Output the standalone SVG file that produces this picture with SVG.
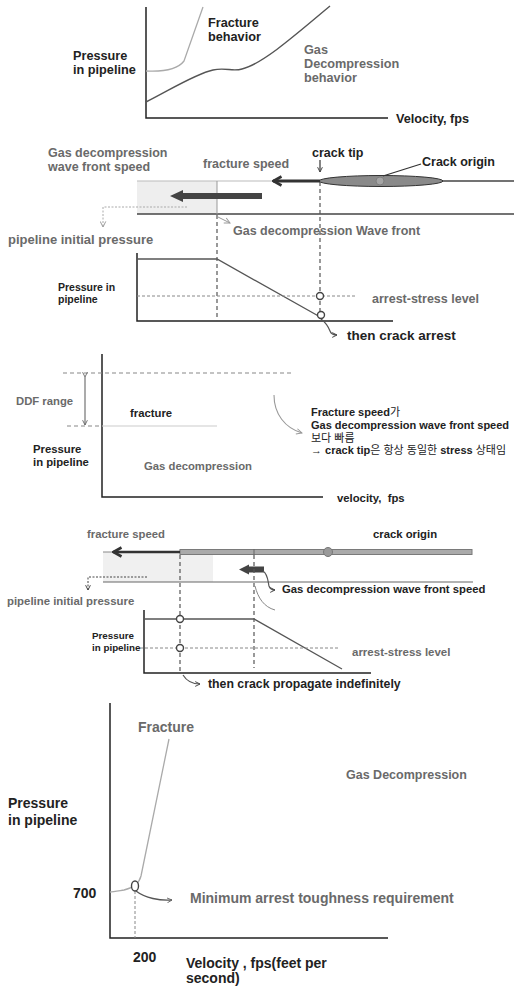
<svg xmlns="http://www.w3.org/2000/svg" width="514" height="990" viewBox="0 0 514 990">
<style>
text{font-family:"Liberation Sans","Noto Sans CJK KR",Arial,sans-serif;font-weight:bold}
.dk{fill:#222}
.gr{fill:#6a6a6a}
.kr{font-weight:normal}
.ax{stroke:#222;stroke-width:1.5;fill:none}
.ln{stroke:#555;stroke-width:1.3;fill:none}
.dsh{stroke:#555;stroke-width:1.2;stroke-dasharray:4 3;fill:none}
.dshl{stroke:#888;stroke-width:1;stroke-dasharray:3 2;fill:none}
.lead{stroke:#555;stroke-width:1.2;fill:none}
.pt{fill:#fff;stroke:#444;stroke-width:1.4}
</style>
<defs>
<marker id="chevb" viewBox="0 0 12 12" refX="10.5" refY="6" markerWidth="12" markerHeight="12" orient="auto" markerUnits="userSpaceOnUse">
<path d="M2,1.5 L10,6 L2,10.5" fill="none" stroke="#333" stroke-width="2.6" stroke-linejoin="miter"/>
</marker>
<marker id="chevl" viewBox="0 0 10 10" refX="9" refY="5" markerWidth="7" markerHeight="7" orient="auto" markerUnits="userSpaceOnUse">
<path d="M1,1 L9,5 L1,9" fill="none" stroke="#999" stroke-width="1.4"/>
</marker>
<marker id="chevs" viewBox="0 0 10 10" refX="9" refY="5" markerWidth="6" markerHeight="6" orient="auto" markerUnits="userSpaceOnUse">
<path d="M1,1 L9,5 L1,9" fill="none" stroke="#444" stroke-width="1.6"/>
</marker>
<marker id="chevg" viewBox="0 0 10 10" refX="9" refY="5" markerWidth="6" markerHeight="6" orient="auto" markerUnits="userSpaceOnUse">
<path d="M1,1 L9,5 L1,9" fill="none" stroke="#666" stroke-width="1.5"/>
</marker>
</defs>
<rect width="514" height="990" fill="#fff"/>

<!-- Section 1 -->
<g id="chart1">
<path class="ax" d="M146,7 V118 H388"/>
<path d="M146,71 C166,72 178,69 184,61 L203,7" fill="none" stroke="#aaa" stroke-width="1.3"/>
<path d="M146,102 C170,90 195,74 213,70 C226,67 232,72 242,69 C262,64 292,38 330,6" fill="none" stroke="#555" stroke-width="1.4"/>
<text class="dk" x="73" y="60" font-size="12.7">Pressure</text>
<text class="dk" x="73" y="74" font-size="12.7">in pipeline</text>
<text class="dk" x="208" y="27" font-size="12.7">Fracture</text>
<text class="dk" x="208" y="41" font-size="12.7">behavior</text>
<text class="gr" x="304" y="54" font-size="12.7">Gas</text>
<text class="gr" x="304" y="68" font-size="12.7">Decompression</text>
<text class="gr" x="304" y="82" font-size="12.7">behavior</text>
<text class="dk" x="396" y="123" font-size="12.7">Velocity, fps</text>
</g>

<!-- Section 2 -->
<g id="pipe1">
<rect x="137" y="181" width="80" height="33" fill="#eeeeee"/>
<line x1="137" y1="181" x2="273" y2="181" stroke="#bbb" stroke-width="1"/>
<line x1="442" y1="181" x2="514" y2="181" stroke="#444" stroke-width="1.5"/>
<line x1="137" y1="214" x2="514" y2="214" stroke="#444" stroke-width="1.5"/>
<line x1="217" y1="181" x2="217" y2="214" stroke="#999" stroke-width="1"/>
<ellipse cx="381" cy="181" rx="62" ry="5.5" fill="#8a8a8a" stroke="#333" stroke-width="1"/>
<circle cx="380" cy="181" r="4" fill="#a5a5a5" stroke="#777" stroke-width="0.8"/>
<path d="M262,193 L183,193 L183,190 L170,196 L183,202 L183,199 L262,199 Z" fill="#444"/>
<text class="gr" x="48" y="157" font-size="12.5">Gas decompression</text>
<text class="gr" x="48" y="171" font-size="12.5">wave front speed</text>
<text class="gr" x="203" y="168" font-size="12.5">fracture speed</text>
<text class="dk" x="312" y="157" font-size="12.5">crack tip</text>
<text class="dk" x="422" y="166" font-size="12.5">Crack origin</text>
<text class="gr" x="8" y="244" font-size="13">pipeline initial pressure</text>
<text class="gr" x="233" y="235" font-size="12.5">Gas decompression Wave front</text>
</g>
<g id="chart2">
<path class="ax" d="M137,253 V321 H393"/>
<path class="ln" d="M137,259 H217 L322,318"/>
<line class="dsh" x1="217" y1="215" x2="217" y2="321"/>
<line class="dsh" x1="320" y1="182" x2="320" y2="316"/>
<line class="dshl" x1="137" y1="296" x2="357" y2="296"/>
<circle class="pt" cx="320" cy="296" r="3.5"/>
<circle class="pt" cx="321" cy="315" r="3.5"/>
<text class="dk" x="58" y="291" font-size="10.5">Pressure in</text>
<text class="dk" x="58" y="303" font-size="10.5">pipeline</text>
<text class="gr" x="372" y="303" font-size="12.5">arrest-stress level</text>
<text class="dk" x="347" y="340" font-size="13.5" fill="#333">then crack arrest</text>
</g>

<!-- Section 3 -->
<g id="chart3">
<path class="ax" d="M102,354 V497 H323"/>
<line x1="63" y1="373" x2="293" y2="373" stroke="#888" stroke-width="1.1" stroke-dasharray="4 3"/>
<line x1="67" y1="426" x2="102" y2="426" stroke="#888" stroke-width="1.1" stroke-dasharray="4 3"/>
<line x1="102" y1="426" x2="217" y2="426" stroke="#ccc" stroke-width="1.2"/>
<text class="gr" x="16" y="405" font-size="11.3">DDF range</text>
<text class="dk" x="130" y="417" font-size="11.3">fracture</text>
<text class="dk" x="33" y="453" font-size="11.3">Pressure</text>
<text class="dk" x="33" y="466" font-size="11.3">in pipeline</text>
<text class="gr" x="144" y="470" font-size="11.3">Gas decompression</text>
<text class="dk" x="337" y="502" font-size="11.3" xml:space="preserve">velocity,  fps</text>
</g>
<g id="note3">
<text class="dk" x="311" y="416" font-size="11">Fracture speed<tspan class="kr">가</tspan></text>
<text class="dk" x="311" y="429" font-size="11">Gas decompression wave front speed</text>
<text class="dk kr" x="311" y="442" font-size="11">보다 빠름</text>
<text class="dk" x="311" y="454" font-size="11">→ crack tip<tspan class="kr">은 항상 동일한 </tspan>stress<tspan class="kr"> 상태임</tspan></text>
</g>

<!-- Section 4 -->
<g id="pipe2">
<rect x="103" y="552" width="110" height="30" fill="#f0f0f0"/>
<line x1="103" y1="552" x2="180" y2="552" stroke="#888" stroke-width="1"/>
<line x1="103" y1="582" x2="473" y2="582" stroke="#666" stroke-width="1.1"/>
<rect x="180" y="549.5" width="292" height="5" fill="#aaa" stroke="#7a7a7a" stroke-width="1"/>
<line x1="254" y1="549" x2="254" y2="555" stroke="#666" stroke-width="1"/>
<circle cx="328" cy="552" r="4.5" fill="#999" stroke="#777" stroke-width="1"/>
<path d="M264,566.5 L249,566.5 L249,564.5 L239,569.5 L249,574.5 L249,572.5 L264,572.5 Z" fill="#444"/>
<text class="gr" x="87" y="538" font-size="11.3">fracture speed</text>
<text class="dk" x="373" y="538" font-size="11.3" fill="#333">crack origin</text>
<text class="dk" x="282" y="593" font-size="11.3" fill="#444">Gas decompression wave front speed</text>
<text class="gr" x="7" y="605" font-size="11.4">pipeline initial pressure</text>
</g>
<g id="chart4">
<path class="ax" d="M144,610 V673 H371"/>
<path class="ln" d="M144,619 H254 L342,669"/>
<line class="dsh" x1="180" y1="555" x2="180" y2="672" stroke="#888"/>
<line class="dsh" x1="254" y1="555" x2="254" y2="668" stroke="#888"/>
<line class="dshl" x1="140" y1="648" x2="338" y2="648"/>
<circle class="pt" cx="180" cy="619" r="3.5" fill="#ddd"/>
<circle class="pt" cx="180" cy="648" r="3.5"/>
<text class="dk" x="92" y="639" font-size="9.8">Pressure</text>
<text class="dk" x="92" y="651" font-size="9.8">in pipeline</text>
<text class="gr" x="352" y="656" font-size="11.5">arrest-stress level</text>
<text class="dk" x="208" y="688" font-size="12.3" fill="#444">then crack propagate indefinitely</text>
</g>

<!-- Section 5 -->
<g id="chart5">
<path class="ax" d="M110,703 V938 H388"/>
<path d="M169,739 L141,876 C139,884 133,888 124,890 C118,891 113,892 110,892" fill="none" stroke="#aaa" stroke-width="1.3"/>
<line x1="135" y1="891" x2="135" y2="938" stroke="#888" stroke-width="1" stroke-dasharray="3 2"/>
<ellipse class="pt" cx="135" cy="886" rx="3.5" ry="5"/>
<text class="gr" x="138" y="732" font-size="14">Fracture</text>
<text class="gr" x="346" y="779" font-size="12.5">Gas Decompression</text>
<text class="dk" x="8" y="808" font-size="14" fill="#111">Pressure</text>
<text class="dk" x="8" y="825" font-size="14" fill="#111">in pipeline</text>
<text class="dk" x="73" y="898" font-size="14" fill="#111">700</text>
<text class="gr" x="190" y="903" font-size="14">Minimum arrest toughness requirement</text>
<text class="dk" x="133" y="962" font-size="14" fill="#111">200</text>
<text class="dk" x="186" y="968" font-size="14" fill="#111">Velocity , fps(feet per</text>
<text class="dk" x="186" y="983" font-size="14" fill="#111">second)</text>
</g>

<!-- Connectors -->
<g id="connectors">
<line x1="320" y1="181" x2="273" y2="181" stroke="#333" stroke-width="3" marker-end="url(#chevb)"/>
<line x1="383" y1="176" x2="421" y2="164" stroke="#333" stroke-width="1.2"/>
<line x1="320" y1="160" x2="320" y2="172" stroke="#333" stroke-width="1.2" marker-end="url(#chevs)"/>
<path d="M187,207 H103 V227" fill="none" stroke="#aaa" stroke-width="1" stroke-dasharray="2 1.5" marker-end="url(#chevl)"/>
<line x1="218" y1="217" x2="230" y2="223" stroke="#999" stroke-width="1" marker-end="url(#chevl)"/>
<path class="lead" d="M321,319 C325,322 328,326 330,331 C331,334 333,335 337,335" marker-end="url(#chevs)"/>
<line x1="85" y1="377" x2="85" y2="425" stroke="#666" stroke-width="1.1" marker-start="url(#chevg)" marker-end="url(#chevg)"/>
<path d="M274,395 C274,414 285,428 302,433" fill="none" stroke="#999" stroke-width="1.1" marker-end="url(#chevl)"/>
<line x1="180" y1="552" x2="113" y2="552" stroke="#333" stroke-width="2.5" marker-end="url(#chevb)"/>
<path class="lead" d="M263,571 C268,574 268,582 269,586 C270,589 272,590 275,590" marker-end="url(#chevs)"/>
<path d="M147,577 H88 V590" fill="none" stroke="#444" stroke-width="1" stroke-dasharray="2 1.5" marker-end="url(#chevs)"/>
<path d="M255,586 C258,598 264,607 275,610" fill="none" stroke="#888" stroke-width="1"/>
<path class="lead" d="M183,675 C186,680 190,684 200,684" stroke="#888" marker-end="url(#chevs)"/>
<path d="M136,891 C145,898 160,901 172,900" fill="none" stroke="#555" stroke-width="1.3" marker-end="url(#chevg)"/>
</g>
</svg>
